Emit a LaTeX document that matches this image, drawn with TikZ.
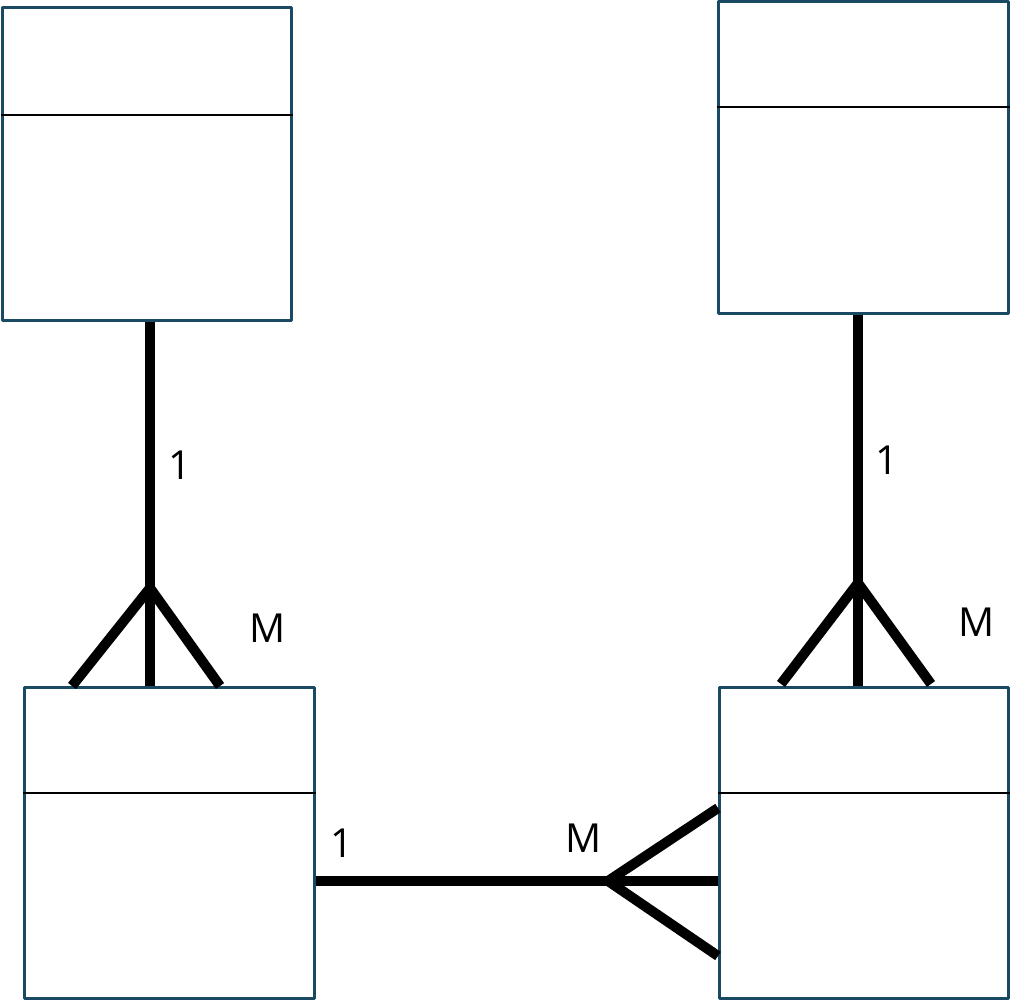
\documentclass[tikz,border=0pt]{standalone}
\usepackage{fontspec}
\setmainfont{Open Sans}
\definecolor{entityblue}{HTML}{1A4A63}
\begin{document}
\begin{tikzpicture}[x=1pt,y=-1pt,line join=round,
    entity/.style={rectangle,draw=entityblue,line width=3pt,fill=white,inner sep=0pt},
    link/.style={line width=10pt},
    card/.style={font=\fontsize{40}{48}\selectfont}]
    \useasboundingbox (0,0) rectangle (1024,1000);
    \node[entity,minimum width=289pt,minimum height=312pt] at (146.5,164) (tl) {};
    \node[entity,minimum width=290pt,minimum height=311pt] at (863,157.5) (tr) {};
    \node[entity,minimum width=290pt,minimum height=311pt] at (169,842.5) (bl) {};
    \node[entity,minimum width=289pt,minimum height=311pt] at (863.5,842.5) (br) {};

    % header lines
    \draw[line width=1.5pt] (tl.west |- 0,115) -- (tl.east |- 0,115);
    \draw[line width=1.5pt] (tr.west |- 0,107) -- (tr.east |- 0,107);
    \draw[line width=1.5pt] (bl.west |- 0,793) -- (bl.east |- 0,793);
    \draw[line width=1.5pt] (br.west |- 0,793) -- (br.east |- 0,793);

    % crow feet
    \coordinate (f1) at (150,588);
    \coordinate (f2) at (858,583);
    \coordinate (f3) at (608,881);

    \draw[link] (tl.south -| f1) -- (f1 |- bl.north);
    \draw[link] (72,686) -- (f1) -- (220,686);
    \draw[link] (tr.south -| f2) -- (f2 |- br.north);
    \draw[link] (781,684) -- (f2) -- (931,684);
    \draw[link] (bl.east |- f3) -- (br.west |- f3);
    \draw[link] (718,808) -- (f3) -- (718,956);

    \node[card] at (180,465) (c1) {1};
    \node[card] at (268,628) (c2) {M};
    \node[card] at (887,460) (c3) {1};
    \node[card] at (977,622) (c4) {M};
    \node[card] at (342,843) (c5) {1};
    \node[card] at (584,838) (c6) {M};
\end{tikzpicture}
\end{document}
